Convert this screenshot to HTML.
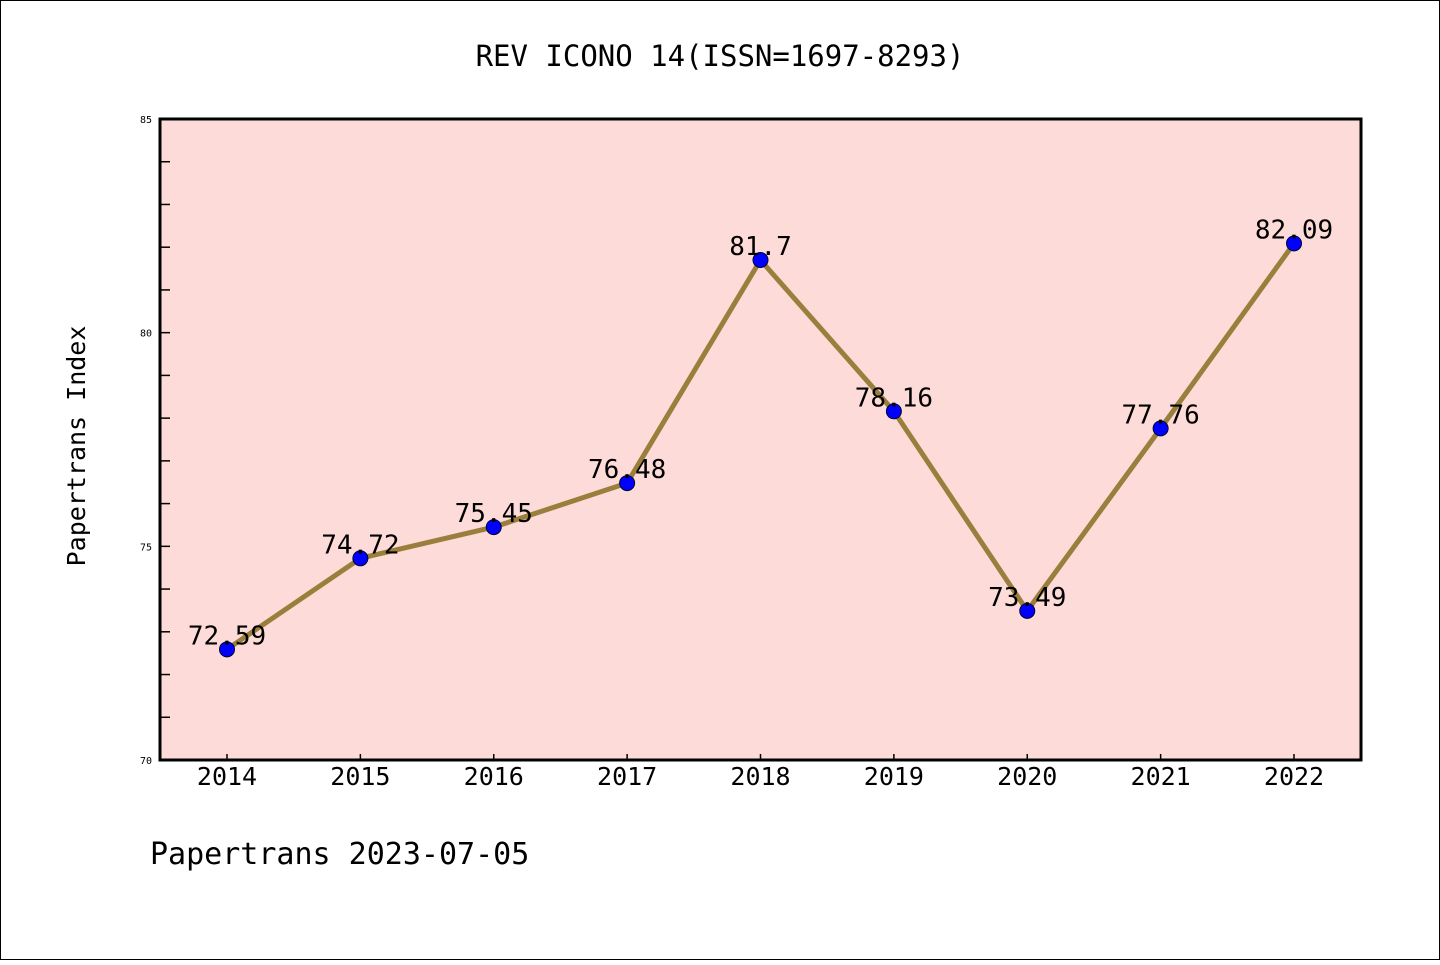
<!DOCTYPE html>
<html><head><meta charset="utf-8"><style>
body{margin:0;background:#fff}
svg text{font-family:"WenQuanYi Zen Hei Mono","DejaVu Sans Mono","Liberation Mono",monospace}
</style></head><body>
<svg width="1440" height="960" viewBox="0 0 1440 960">
<rect x="0.5" y="0.5" width="1439" height="959" fill="#fff" stroke="#000"/>
<text x="720" y="66" font-size="29" text-anchor="middle">REV ICONO 14(ISSN=1697-8293)</text>
<rect x="160" y="119" width="1201" height="641" fill="#fddbd8"/>
<g id="g"></g>
<rect x="160" y="119" width="1201" height="641" fill="none" stroke="#000" stroke-width="3"/>
<text x="85" y="446" font-size="25" text-anchor="middle" transform="rotate(-90 85 446)">Papertrans Index</text>
<text x="150" y="864" font-size="30">Papertrans 2023-07-05</text>
</svg>
<script>
const years=[2014,2015,2016,2017,2018,2019,2020,2021,2022];
const values=[72.59,74.72,75.45,76.48,81.7,78.16,73.49,77.76,82.09];
const yTicks=[70,75,80,85];
const NS="http://www.w3.org/2000/svg";
const g=document.getElementById('g');
const xs=i=>227+i*(1294-227)/(years.length-1);
const ys=v=>760-(v-70)*(641/15);
function mk(t,a,p){const e=document.createElementNS(NS,t);for(const k in a)e.setAttribute(k,a[k]);(p||g).appendChild(e);return e;}
for(let v=71;v<85;v++){const l=mk('line',{x1:160,x2:170,y1:ys(v),y2:ys(v),stroke:'#000','stroke-width':1.5});

}
yTicks.forEach(v=>{const t=mk('text',{x:152,y:ys(v)+4,'font-size':10,'text-anchor':'end'});t.textContent=v;

});
years.forEach((y,i)=>{const l=mk('line',{x1:xs(i),x2:xs(i),y1:760,y2:754,stroke:'#000','stroke-width':1.5});


const t=mk('text',{x:xs(i),y:785,'font-size':25,'text-anchor':'middle'});t.textContent=y;

});
const pl=mk('polyline',{points:values.map((v,i)=>xs(i)+','+ys(v)).join(' '),fill:'none',stroke:'#9a7f3c','stroke-width':5});


values.forEach((v,i)=>{const c=mk('circle',{cx:xs(i),cy:ys(v),r:7.5,fill:'#0000ff',stroke:'#000033','stroke-width':1});


const t=mk('text',{x:xs(i),y:ys(v)-5,'font-size':26,'text-anchor':'middle'});t.textContent=v;

});
</script>
</body></html>
